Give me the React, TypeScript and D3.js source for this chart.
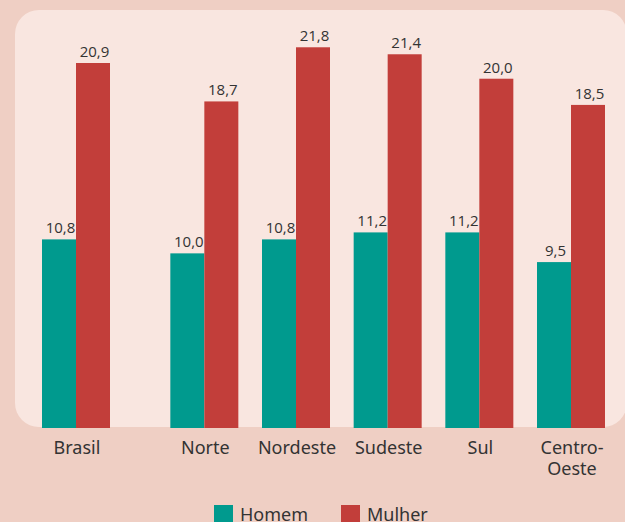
import React from "react";
import * as d3 from "d3";

const categories = ["Brasil", "Norte", "Nordeste", "Sudeste", "Sul", "Centro-Oeste"];
const categoryLines = [["Brasil"], ["Norte"], ["Nordeste"], ["Sudeste"], ["Sul"], ["Centro-", "Oeste"]];
const homem = [10.8, 10.0, 10.8, 11.2, 11.2, 9.5];
const mulher = [20.9, 18.7, 21.8, 21.4, 20.0, 18.5];
const seriesNames = ["Homem", "Mulher"];

const W = 625;
const H = 522;
const COLORS = ["#009a8e", "#c23e3a"];
const TEXT = "#333333";

export default function App() {
  // slot positions (Brasil is separated from the regions by an extra gap)
  const slot = categories.map((_, i) => (i === 0 ? 0 : i + 0.4));
  const x = d3.scaleLinear().domain([0, 5.4]).range([42, 537]);
  const barW = 34;
  const y = d3.scaleLinear().domain([0, 20.9]).range([428, 63]);
  const fmt = (v: number) => d3.format(".1f")(v).replace(".", ",");
  const series = [homem, mulher];

  return (
    <div style={{ position: "absolute", left: 0, top: 0 }}>
      <svg width={W} height={H} style={{ display: "block" }}>
        <rect x={0} y={0} width={W} height={H} fill="#efcfc4" />
        <rect x={15} y={10} width={612} height={417} rx={24} ry={24} fill="#f9e6e0" />
        {categories.map((c, i) => {
          const gx = x(slot[i]);
          return (
            <g key={c}>
              {series.map((s, k) => (
                <g key={k}>
                  <rect
                    x={gx + k * barW}
                    y={y(s[i])}
                    width={barW}
                    height={y(0) - y(s[i])}
                    fill={COLORS[k]}
                  />
                  <text
                    x={gx + k * barW + barW / 2 + 1.5}
                    y={y(s[i]) - 6}
                    textAnchor="middle"
                    fontFamily="'Open Sans', sans-serif"
                    fontSize={15}
                    fill={TEXT}
                  >
                    {fmt(s[i])}
                  </text>
                </g>
              ))}
              <text
                x={gx + barW + 1}
                y={454}
                textAnchor="middle"
                fontFamily="'Noto Sans', sans-serif"
                fontSize={18}
                fill={TEXT}
              >
                {categoryLines[i].map((l, j) => (
                  <tspan key={j} x={gx + barW + 1} dy={j === 0 ? 0 : 21}>
                    {l}
                  </tspan>
                ))}
              </text>
            </g>
          );
        })}
        {seriesNames.map((n, k) => {
          const lx = [214, 341][k];
          return (
            <g key={n}>
              <rect x={lx} y={505} width={19} height={19} fill={COLORS[k]} />
              <text
                x={lx + 26}
                y={521}
                fontFamily="'Noto Sans', sans-serif"
                fontSize={18}
                fill={TEXT}
              >
                {n}
              </text>
            </g>
          );
        })}
      </svg>
    </div>
  );
}
